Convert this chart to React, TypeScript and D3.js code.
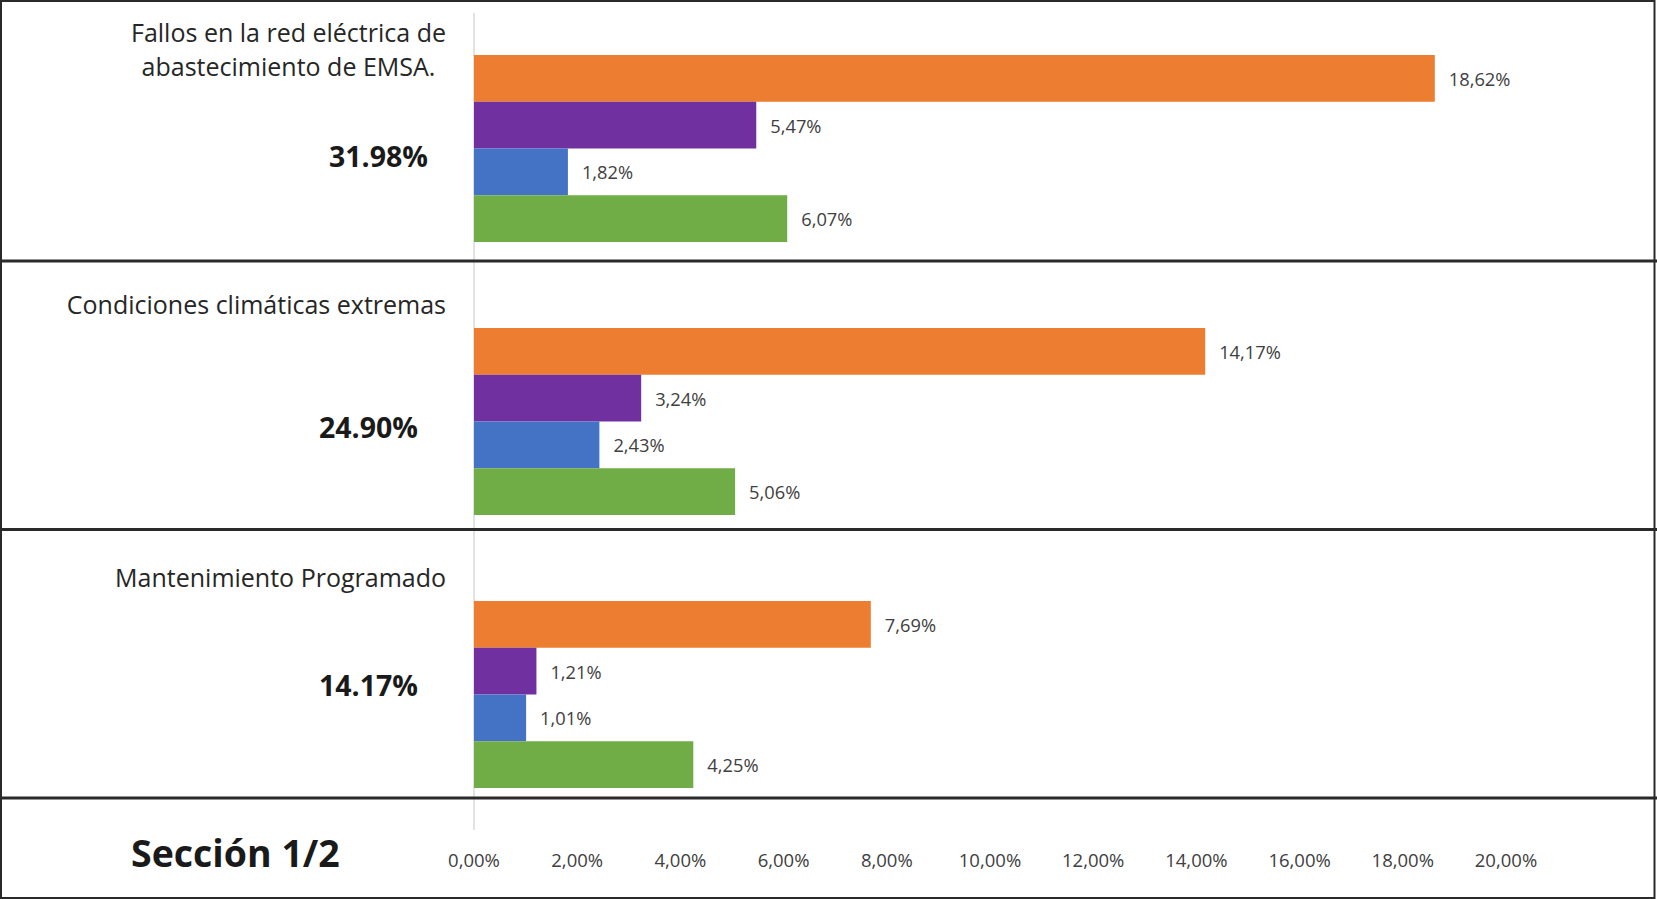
import React from "react";
import * as d3 from "d3";

// ---- data ----
const categories: string[] = [
  "Fallos en la red eléctrica de abastecimiento de EMSA.",
  "Condiciones climáticas extremas",
  "Mantenimiento Programado",
];
const categoryLines: string[][] = [
  ["Fallos en la red eléctrica de", "abastecimiento de EMSA."],
  ["Condiciones climáticas extremas"],
  ["Mantenimiento Programado"],
];
const categoryTotals: number[] = [31.98, 24.9, 14.17];

const seriesKeys: string[] = ["naranja", "morado", "azul", "verde"];
const seriesNaranja: number[] = [18.62, 14.17, 7.69];
const seriesMorado: number[] = [5.47, 3.24, 1.21];
const seriesAzul: number[] = [1.82, 2.43, 1.01];
const seriesVerde: number[] = [6.07, 5.06, 4.25];
const seriesColors: string[] = ["#ED7D31", "#7030A0", "#4472C4", "#70AD47"];

const xTicks: number[] = [0, 2, 4, 6, 8, 10, 12, 14, 16, 18, 20];
const sectionLabel = "Sección 1/2";

// ---- layout ----
const W = 1657;
const H = 899;
const FONT = "'Open Sans', 'Noto Sans', sans-serif";
const separatorsY = [261, 529.5, 798];
const totalLabelPos = [
  { x: 428, y: 156 },
  { x: 418, y: 427 },
  { x: 418, y: 685 },
];
const catLabelPos = [
  { x: 288.5, y: 31.5, dy: 34, anchor: "middle" },
  { x: 446, y: 304, dy: 34, anchor: "end" },
  { x: 446, y: 577, dy: 34, anchor: "end" },
];

const locale = d3.formatLocale({
  decimal: ",",
  thousands: ".",
  grouping: [3],
  currency: ["", "€"],
});
const fmt = locale.format(".2f");
const fmtTotal = d3.format(".2f");

export default function App() {
  const table = categories.map((c, i) => ({
    category: c,
    values: [seriesNaranja[i], seriesMorado[i], seriesAzul[i], seriesVerde[i]],
  }));

  const x = d3.scaleLinear().domain([0, 20]).range([474, 1506]);
  const y0 = d3
    .scaleBand<string>()
    .domain(categories)
    .range([12, 831])
    .paddingInner(0.315)
    .paddingOuter(0.1575);
  const y1 = d3
    .scaleBand<string>()
    .domain(seriesKeys)
    .range([0, y0.bandwidth()])
    .padding(0);

  return (
    <svg
      width={W}
      height={H}
      style={{ position: "absolute", left: 0, top: 0, background: "#fff" }}
      fontFamily={FONT}
    >
      <rect x={0} y={0} width={W} height={H} fill="#fff" />
      {/* axis line */}
      <line x1={x(0)} x2={x(0)} y1={13} y2={830} stroke="#d9d9d9" strokeWidth={1.5} />

      {/* bars */}
      {table.map((row) => (
        <g key={row.category} transform={`translate(0,${y0(row.category)})`}>
          {row.values.map((v, j) => (
            <g key={seriesKeys[j]}>
              <rect
                x={x(0)}
                y={y1(seriesKeys[j])}
                width={x(v) - x(0)}
                height={y1.bandwidth()}
                fill={seriesColors[j]}
              />
              <text
                x={x(v) + 14}
                y={(y1(seriesKeys[j]) as number) + y1.bandwidth() / 2}
                dominantBaseline="central"
                fontSize={18.3}
                fill="#404040"
              >
                {fmt(v)}%
              </text>
            </g>
          ))}
        </g>
      ))}

      {/* category labels */}
      {categoryLines.map((lines, i) => (
        <text
          key={i}
          x={catLabelPos[i].x}
          y={catLabelPos[i].y}
          textAnchor={catLabelPos[i].anchor}
          dominantBaseline="central"
          fontSize={25}
          fill="#262626"
        >
          {lines.map((l, k) => (
            <tspan key={k} x={catLabelPos[i].x} dy={k === 0 ? 0 : catLabelPos[i].dy}>
              {l}
            </tspan>
          ))}
        </text>
      ))}

      {/* totals */}
      {categoryTotals.map((t, i) => (
        <text
          key={i}
          x={totalLabelPos[i].x}
          y={totalLabelPos[i].y}
          textAnchor="end"
          dominantBaseline="central"
          fontSize={28.5}
          fontWeight={700}
          fill="#1a1a1a"
        >
          {fmtTotal(t)}%
        </text>
      ))}

      {/* separators */}
      {separatorsY.map((yy, i) => (
        <line key={i} x1={0} x2={W} y1={yy} y2={yy} stroke="#2a2a2a" strokeWidth={3} />
      ))}

      {/* x tick labels */}
      {xTicks.map((t) => (
        <text
          key={t}
          x={x(t)}
          y={859}
          textAnchor="middle"
          dominantBaseline="central"
          fontSize={18.5}
          fill="#404040"
        >
          {fmt(t)}%
        </text>
      ))}

      {/* section label */}
      <text
        x={131}
        y={852}
        dominantBaseline="central"
        fontSize={37.5}
        fontWeight={700}
        fill="#1a1a1a"
      >
        {sectionLabel}
      </text>

      {/* outer frame */}
      <rect x={1} y={1} width={W - 3.5} height={H - 2} fill="none" stroke="#2a2a2a" strokeWidth={2} />
    </svg>
  );
}
